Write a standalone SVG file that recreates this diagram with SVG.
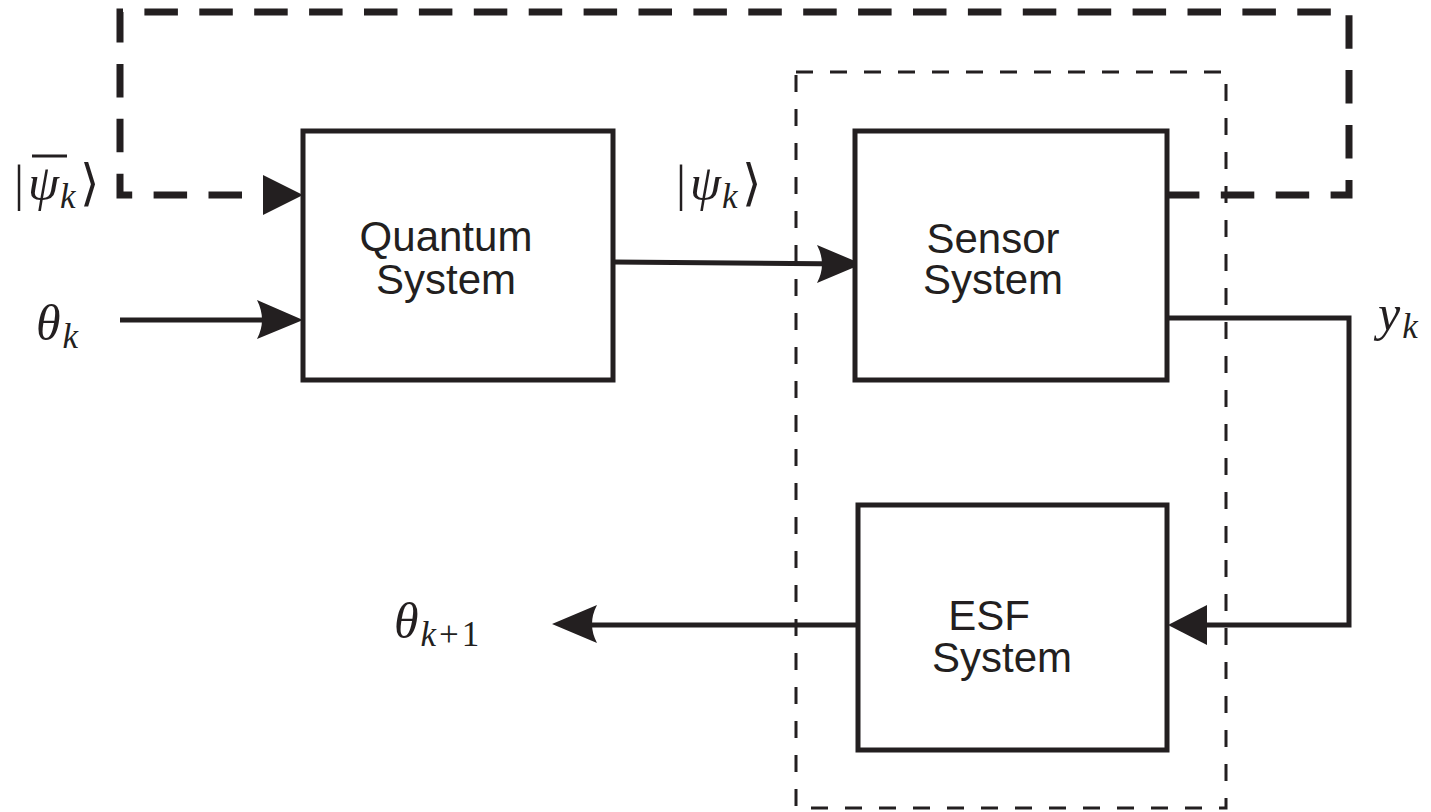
<svg xmlns="http://www.w3.org/2000/svg" width="1431" height="812" viewBox="0 0 1431 812">
<style>
.box{fill:#fff;stroke:#231f20;stroke-width:5}
.lbl{font-family:"Liberation Sans",Arial,sans-serif;font-size:42px;fill:#231f20;text-anchor:middle}
.math{font-family:"Liberation Serif","Times New Roman",serif;font-style:italic;fill:#231f20;font-size:50px}
.sub{font-size:35px}
.up{font-style:normal}
.wire{fill:none;stroke:#231f20;stroke-width:5}
.thick{fill:none;stroke:#231f20;stroke-width:7;stroke-dasharray:33.5 21.4}
.thin{fill:none;stroke:#231f20;stroke-width:3;stroke-dasharray:17 17}
.head{fill:#231f20;stroke:none}
</style>
<rect width="1431" height="812" fill="#fff"/>
<g id="connectors">
<path class="thick" d="M242,195 H120 V12 H1349 V195 H1167"/>
<path class="head" d="M303,195 L263,175 L263,215 Z"/>
<path class="wire" d="M120,320 H290"/>
<path class="head" d="M303,320 L257,300 Q267,320 257,339 Z"/>
<path class="wire" d="M613,262 L850,264"/>
<path class="head" d="M862,264 L817,245 Q827,264 817,283 Z"/>
<path class="wire" d="M1167,318 H1349 V625 H1190"/>
<path class="head" d="M1168,625 L1207,605 L1207,645 Z"/>
<path class="wire" d="M858,625 H565"/>
<path class="head" d="M552,624 L597,605 Q587,624 597,643 Z"/>
</g>
<g id="nodes">
<g id="quantum">
<rect class="box" x="303" y="131" width="310" height="249"/>
<text class="lbl" x="446" y="251">Quantum</text>
<text class="lbl" x="446" y="294">System</text>
</g>
<g id="sensor">
<rect class="box" x="855" y="131" width="312" height="249"/>
<text class="lbl" x="993" y="253">Sensor</text>
<text class="lbl" x="993" y="294">System</text>
</g>
<g id="esf">
<rect class="box" x="858" y="505" width="309" height="245"/>
<text class="lbl" x="989" y="630">ESF</text>
<text class="lbl" x="1002" y="672">System</text>
</g>
</g>
<g id="group">
<rect class="thin" x="796" y="72" width="430" height="736"/>
</g>
<g id="labels">
<text class="math" x="14" y="200"><tspan class="up">|</tspan><tspan dx="4">ψ</tspan><tspan class="sub" dy="8" dx="1">k</tspan><tspan class="up" dy="-8" dx="4">⟩</tspan></text>
<line x1="32" y1="156" x2="67" y2="156" stroke="#231f20" stroke-width="3"/>
<text class="math" x="676" y="200"><tspan class="up">|</tspan><tspan dx="4">ψ</tspan><tspan class="sub" dy="8" dx="1">k</tspan><tspan class="up" dy="-8" dx="4">⟩</tspan></text>
<text class="math" x="36" y="340">θ<tspan class="sub" dy="8" dx="2">k</tspan></text>
<text class="math" x="1378" y="330">y<tspan class="sub" dy="8" dx="2">k</tspan></text>
<text class="math" x="394" y="638">θ<tspan class="sub" dy="8" dx="2">k</tspan><tspan class="up sub" dx="3">+</tspan><tspan class="up sub" dx="3">1</tspan></text>
</g>
</svg>
